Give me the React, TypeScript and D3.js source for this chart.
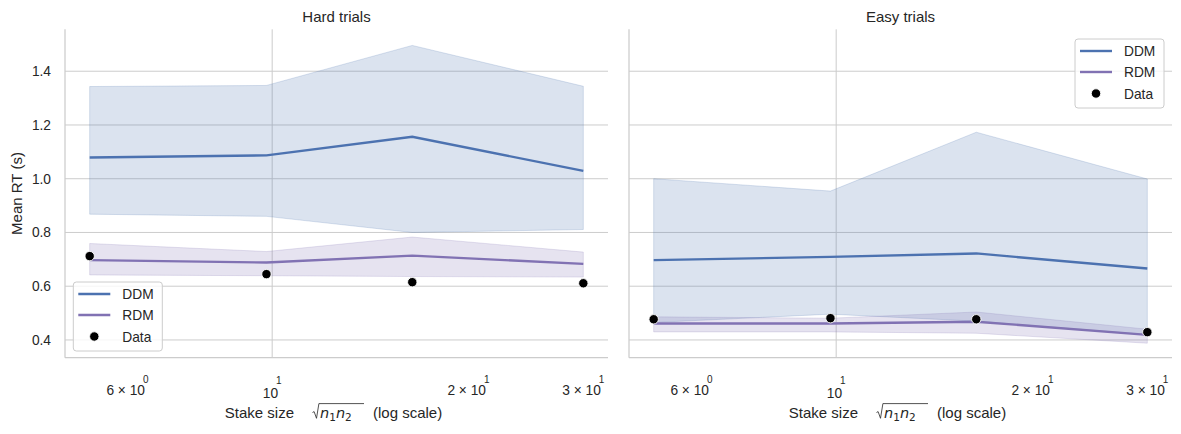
import * as d3 from "d3";

// stake size sqrt(n1*n2), one value per condition
const STAKE = [5.25, 9.8, 16.4, 30.0];

const HARD_DDM = [1.079, 1.087, 1.156, 1.029];
const HARD_DDM_LO = [0.868, 0.86, 0.8, 0.811];
const HARD_DDM_HI = [1.343, 1.347, 1.496, 1.344];
const HARD_RDM = [0.697, 0.688, 0.714, 0.683];
const HARD_RDM_LO = [0.642, 0.639, 0.636, 0.634];
const HARD_RDM_HI = [0.759, 0.729, 0.783, 0.727];
const HARD_DATA = [0.712, 0.645, 0.615, 0.611];

const EASY_DDM = [0.697, 0.709, 0.722, 0.666];
const EASY_DDM_LO = [0.465, 0.496, 0.47, 0.42];
const EASY_DDM_HI = [1.0, 0.954, 1.173, 0.999];
const EASY_RDM = [0.461, 0.461, 0.468, 0.419];
const EASY_RDM_LO = [0.43, 0.43, 0.425, 0.388];
const EASY_RDM_HI = [0.486, 0.481, 0.504, 0.44];
const EASY_DATA = [0.477, 0.481, 0.477, 0.429];

const Y_TICKS = [0.4, 0.6, 0.8, 1.0, 1.2, 1.4];
const Y_DOMAIN = [0.334, 1.556];
const X_TICKS = [6, 10, 20, 30];
const X_TICK_MAJOR = [false, true, false, false];
const X_TICK_BASE = ["6 × 10", "10", "2 × 10", "3 × 10"];
const X_TICK_EXP = ["0", "1", "1", "1"];

const LEGEND_LABELS = ["DDM", "RDM", "Data"];

const COLORS = { ddm: "#4C72B0", rdm: "#8172B3" };

const FONT = '"Liberation Sans", Arial, sans-serif';
const MATH_FONT = '"DejaVu Sans", sans-serif';
const TEXT = "#262626";
const GRID = "#cccccc";

const PANEL = { top: 29.3, height: 328.4, width: 543, lefts: [65, 629] };
const LEGEND = { width: 89, height: 69, rowY: [12, 33, 54.5], fontSize: 13.75 };

type Panel = {
  title: string;
  ddm: number[];
  ddmLo: number[];
  ddmHi: number[];
  rdm: number[];
  rdmLo: number[];
  rdmHi: number[];
  data: number[];
  legend: "lower left" | "upper right";
  yLabels: boolean;
};

const PANELS: Panel[] = [
  {
    title: "Hard trials",
    ddm: HARD_DDM,
    ddmLo: HARD_DDM_LO,
    ddmHi: HARD_DDM_HI,
    rdm: HARD_RDM,
    rdmLo: HARD_RDM_LO,
    rdmHi: HARD_RDM_HI,
    data: HARD_DATA,
    legend: "lower left",
    yLabels: true,
  },
  {
    title: "Easy trials",
    ddm: EASY_DDM,
    ddmLo: EASY_DDM_LO,
    ddmHi: EASY_DDM_HI,
    rdm: EASY_RDM,
    rdmLo: EASY_RDM_LO,
    rdmHi: EASY_RDM_HI,
    data: EASY_DATA,
    legend: "upper right",
    yLabels: false,
  },
];

function xDomain() {
  const lo = Math.log10(d3.min(STAKE)!);
  const hi = Math.log10(d3.max(STAKE)!);
  const pad = (hi - lo) * 0.05;
  return [10 ** (lo - pad), 10 ** (hi + pad)];
}

function ChartPanel({ panel, left }: { panel: Panel; left: number }) {
  const x = d3.scaleLog().domain(xDomain()).range([left, left + PANEL.width]);
  const y = d3
    .scaleLinear()
    .domain(Y_DOMAIN)
    .range([PANEL.top + PANEL.height, PANEL.top]);
  const bottom = PANEL.top + PANEL.height;
  const right = left + PANEL.width;
  const cx = left + PANEL.width / 2;

  const band = (lo: number[], hi: number[]) =>
    d3
      .area<number>()
      .x((d) => x(d))
      .y0((_, i) => y(lo[i]))
      .y1((_, i) => y(hi[i]))(STAKE) ?? undefined;
  const line = (vals: number[]) =>
    d3
      .line<number>()
      .x((d) => x(d))
      .y((_, i) => y(vals[i]))(STAKE) ?? undefined;

  const lx =
    panel.legend === "lower left" ? left + 8.3 : right - 8 - LEGEND.width;
  const ly =
    panel.legend === "lower left" ? bottom - 6.7 - LEGEND.height : PANEL.top + 9.7;

  return (
    <g>
      {/* grid */}
      {Y_TICKS.map((t) => (
        <line
          key={t}
          x1={left}
          x2={right}
          y1={y(t)}
          y2={y(t)}
          stroke={GRID}
          strokeWidth={1}
        />
      ))}
      {X_TICKS.filter((_, i) => X_TICK_MAJOR[i]).map((t) => (
        <line
          key={t}
          x1={x(t)}
          x2={x(t)}
          y1={PANEL.top}
          y2={bottom}
          stroke={GRID}
          strokeWidth={1}
        />
      ))}

      {/* bands and lines */}
      <path
        d={band(panel.ddmLo, panel.ddmHi)}
        fill={COLORS.ddm}
        fillOpacity={0.2}
        stroke={COLORS.ddm}
        strokeOpacity={0.2}
        strokeWidth={1}
      />
      <path
        d={line(panel.ddm)}
        fill="none"
        stroke={COLORS.ddm}
        strokeWidth={2.4}
      />
      <path
        d={band(panel.rdmLo, panel.rdmHi)}
        fill={COLORS.rdm}
        fillOpacity={0.2}
        stroke={COLORS.rdm}
        strokeOpacity={0.2}
        strokeWidth={1}
      />
      <path
        d={line(panel.rdm)}
        fill="none"
        stroke={COLORS.rdm}
        strokeWidth={2.4}
      />
      {panel.data.map((v, i) => (
        <circle
          key={i}
          cx={x(STAKE[i])}
          cy={y(v)}
          r={4.7}
          fill="#000"
          stroke="#fff"
          strokeWidth={0.9}
        />
      ))}

      {/* spines */}
      <line x1={left} x2={left} y1={PANEL.top} y2={bottom} stroke={GRID} strokeWidth={1.25} />
      <line x1={left} x2={right} y1={bottom} y2={bottom} stroke={GRID} strokeWidth={1.25} />

      {/* y tick labels */}
      {panel.yLabels &&
        Y_TICKS.map((t) => (
          <text
            key={t}
            x={left - 14}
            y={y(t) + 5}
            textAnchor="end"
            fontSize={13.75}
            fontFamily={FONT}
            fill={TEXT}
          >
            {t.toFixed(1)}
          </text>
        ))}

      {/* x tick labels */}
      {X_TICKS.map((t, i) => {
        const major = X_TICK_MAJOR[i];
        return (
          <text
            key={t}
            x={x(t)}
            y={major ? 397.5 : 394.5}
            textAnchor="middle"
            fontSize={13.75}
            fontFamily={FONT}
            fill={TEXT}
          >
            <tspan>{X_TICK_BASE[i]}</tspan>
            <tspan dx={-2} dy={major ? -13.5 : -12} fontSize={10}>{X_TICK_EXP[i]}</tspan>
          </text>
        );
      })}

      {/* title */}
      <text
        x={cx}
        y={21.5}
        textAnchor="middle"
        fontSize={15}
        fontFamily={FONT}
        fill={TEXT}
      >
        {panel.title}
      </text>

      {/* x label: Stake size sqrt(n1 n2) (log scale) */}
      <g fontFamily={FONT} fontSize={15} fill={TEXT}>
        <text x={cx - 42.5} y={418.3} textAnchor="end">
          Stake size
        </text>
        <path
          d={`M${cx - 24} ${412.5} L${cx - 22.4} ${411.6} L${cx - 20} ${418.3} L${cx - 17.6} ${403.6} L${cx + 27.5} ${403.6}`}
          fill="none"
          stroke={TEXT}
          strokeWidth={0.8}
        />
        <text x={cx - 16.5} y={418.3} fontFamily={MATH_FONT} fontSize={14.5}>
          <tspan fontStyle="italic">n</tspan>
          <tspan fontSize={10.5} dy={2.5}>1</tspan>
          <tspan fontStyle="italic" dy={-2.5}>n</tspan>
          <tspan fontSize={10.5} dy={2.5}>2</tspan>
        </text>
        <text x={cx + 36.5} y={418.3}>
          (log scale)
        </text>
      </g>

      {/* legend */}
      <g>
        <rect
          x={lx}
          y={ly}
          width={LEGEND.width}
          height={LEGEND.height}
          rx={3}
          fill="#fff"
          fillOpacity={0.8}
          stroke={GRID}
          strokeWidth={1}
        />
        {LEGEND_LABELS.map((lab, i) => {
          const ry = ly + LEGEND.rowY[i];
          return (
            <g key={lab}>
              {i < 2 ? (
                <line
                  x1={lx + 5}
                  x2={lx + 37}
                  y1={ry}
                  y2={ry}
                  stroke={i === 0 ? COLORS.ddm : COLORS.rdm}
                  strokeWidth={2.4}
                />
              ) : (
                <circle cx={lx + 21} cy={ry} r={4.7} fill="#000" stroke="#fff" strokeWidth={0.9} />
              )}
              <text
                x={lx + 49}
                y={ry + 5}
                fontSize={LEGEND.fontSize}
                fontFamily={FONT}
                fill={TEXT}
              >
                {lab}
              </text>
            </g>
          );
        })}
      </g>
    </g>
  );
}

export default function App() {
  const midY = PANEL.top + PANEL.height / 2;
  return (
    <svg
      width={1181}
      height={434}
      style={{ position: "absolute", left: 0, top: 0, background: "#fff" }}
      xmlns="http://www.w3.org/2000/svg"
    >
      <rect width={1181} height={434} fill="#fff" />
      {PANELS.map((p, i) => (
        <ChartPanel key={p.title} panel={p} left={PANEL.lefts[i]} />
      ))}
      <text
        transform={`translate(22,${midY}) rotate(-90)`}
        textAnchor="middle"
        fontSize={15}
        fontFamily={FONT}
        fill={TEXT}
      >
        Mean RT (s)
      </text>
    </svg>
  );
}
